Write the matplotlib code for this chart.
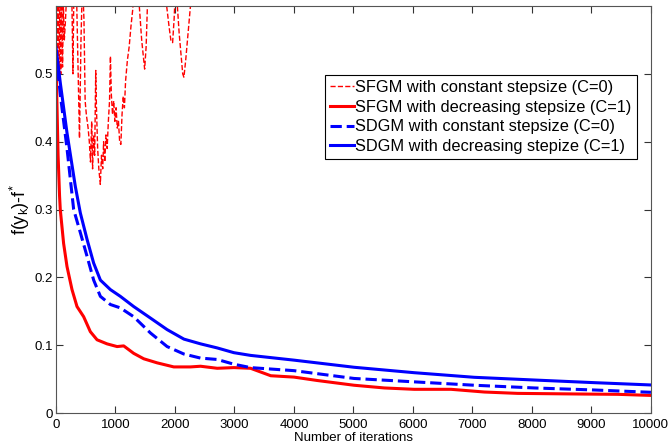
import numpy as np
import matplotlib
matplotlib.use('Agg')
import matplotlib.pyplot as plt

plt.rcParams['font.family'] = ['Liberation Sans', 'DejaVu Sans']
plt.rcParams['mathtext.fontset'] = 'custom'
plt.rcParams['mathtext.rm'] = 'Liberation Sans'

# SFGM, constant stepsize (C=0) -- noisy, leaves the plot after ~2300 iterations
sfgm_const_it = [0, 20, 35, 50, 65, 80, 95, 110, 125, 140, 160, 180, 220, 265, 285, 300, 340,
                 395, 420, 445, 470, 490, 510, 540, 560, 580, 600, 615, 630, 650, 668, 680,
                 700, 720, 745, 765, 785, 800, 820, 840, 860, 880, 900, 915, 930, 950, 970,
                 990, 1010, 1030, 1050, 1070, 1090, 1110, 1130, 1150, 1170, 1200, 1230, 1260,
                 1290, 1320, 1360, 1400, 1440, 1490, 1515, 1540, 1600, 1700, 1800, 1860, 1900,
                 1930, 1960, 1985, 2010, 2040, 2070, 2100, 2130, 2150, 2180, 2210, 2240, 2270,
                 2300, 2500]
sfgm_const = [0.65, 0.52, 0.62, 0.49, 0.61, 0.50, 0.63, 0.51, 0.60, 0.55, 0.58, 0.62, 0.63, 0.62,
              0.50, 0.62, 0.64, 0.405, 0.55, 0.64, 0.58, 0.46, 0.44, 0.42, 0.40, 0.37, 0.43,
              0.36, 0.41, 0.38, 0.505, 0.45, 0.39, 0.36, 0.337, 0.38, 0.36, 0.40, 0.37, 0.41,
              0.39, 0.43, 0.46, 0.526, 0.47, 0.44, 0.46, 0.43, 0.45, 0.42, 0.43, 0.40, 0.396,
              0.44, 0.467, 0.45, 0.49, 0.52, 0.54, 0.57, 0.595, 0.64, 0.66, 0.60, 0.55, 0.507,
              0.54, 0.61, 0.68, 0.70, 0.66, 0.60, 0.57, 0.55, 0.546, 0.58, 0.63, 0.60, 0.56,
              0.53, 0.50, 0.495, 0.52, 0.55, 0.58, 0.61, 0.66, 0.70]

# SFGM, decreasing stepsize (C=1)
sfgm_dec_it = [0, 15, 35, 60, 72, 128, 185, 269, 353, 465, 577, 690, 858, 1027, 1138, 1306, 1475,
               1700, 1980, 2260, 2430, 2710, 2990, 3270, 3610, 4000, 4390, 5010, 5520, 6020,
               6640, 7200, 7760, 8320, 8880, 9440, 10000]
sfgm_dec = [0.52, 0.46, 0.38, 0.32, 0.30, 0.25, 0.216, 0.182, 0.157, 0.142, 0.12, 0.108, 0.102,
            0.098, 0.099, 0.088, 0.08, 0.074, 0.068, 0.068, 0.069, 0.066, 0.067, 0.066, 0.055,
            0.053, 0.048, 0.041, 0.037, 0.035, 0.035, 0.031, 0.029, 0.0285, 0.028, 0.0276,
            0.026]

# SDGM, constant stepsize (C=0)
sdgm_const_it = [0, 72, 185, 297, 409, 522, 633, 746, 914, 1082, 1306, 1588, 1868, 2150, 2430,
                 2710, 2990, 3270, 4000, 5010, 6020, 7030, 8040, 9050, 10000]
sdgm_const = [0.53, 0.47, 0.39, 0.30, 0.266, 0.231, 0.196, 0.172, 0.16, 0.155, 0.142, 0.118,
              0.098, 0.087, 0.081, 0.079, 0.072, 0.067, 0.0625, 0.051, 0.046, 0.041, 0.037,
              0.034, 0.0306]

# SDGM, decreasing stepsize (C=1)
sdgm_dec_it = [0, 72, 185, 325, 409, 522, 633, 746, 914, 1082, 1306, 1588, 1868, 2150, 2430,
               2710, 2990, 3270, 4000, 5010, 6020, 7030, 8040, 9050, 10000]
sdgm_dec = [0.539, 0.487, 0.413, 0.334, 0.295, 0.256, 0.221, 0.196, 0.182, 0.172, 0.157, 0.14,
            0.123, 0.109, 0.102, 0.096, 0.089, 0.085, 0.078, 0.0675, 0.0595, 0.0527, 0.0487,
            0.0448, 0.0414]

fig = plt.figure(figsize=(6.69, 4.48), dpi=100)
ax = fig.add_axes([0.0837, 0.078, 0.8893, 0.9086])

ax.plot(sfgm_const_it, sfgm_const, '--', color='red', lw=1.0,
        label='SFGM with constant stepsize (C=0)')
ax.plot(sfgm_dec_it, sfgm_dec, '-', color='red', lw=2.2,
        label='SFGM with decreasing stepsize (C=1)')
ax.plot(sdgm_const_it, sdgm_const, '--', color='blue', lw=2.2,
        label='SDGM with constant stepsize (C=0)')
ax.plot(sdgm_dec_it, sdgm_dec, '-', color='blue', lw=2.2,
        label='SDGM with decreasing stepize (C=1)')

ax.set_xlim(0, 10000)
ax.set_ylim(0, 0.6)
ax.set_xticks(np.arange(0, 10001, 1000))
ax.set_yticks([0, 0.1, 0.2, 0.3, 0.4, 0.5])
ax.set_yticklabels(['0', '0.1', '0.2', '0.3', '0.4', '0.5'])
ax.tick_params(direction='in', length=5, width=0.8, top=True, right=True,
               labelsize=9.5, pad=2, colors='#333333', labelcolor='black')
ax.tick_params(axis='x', pad=4)
for s in ax.spines.values():
    s.set_color('#555555')
    s.set_linewidth(0.8)

ax.set_xlabel('Number of iterations', fontsize=9.5, labelpad=1)
ax.set_ylabel(r'f(y$_\mathregular{k}$)-f$^\mathregular{*}$', fontsize=13, labelpad=2)

leg = ax.legend(loc='upper right', bbox_to_anchor=(0.976, 0.83), fontsize=11.8,
                handlelength=1.45, handletextpad=0.1, labelspacing=0.28,
                borderpad=0.3, borderaxespad=0, fancybox=False, framealpha=1)
leg.get_frame().set_edgecolor('black')
leg.get_frame().set_linewidth(0.8)

fig.savefig('out.png', dpi=100)
